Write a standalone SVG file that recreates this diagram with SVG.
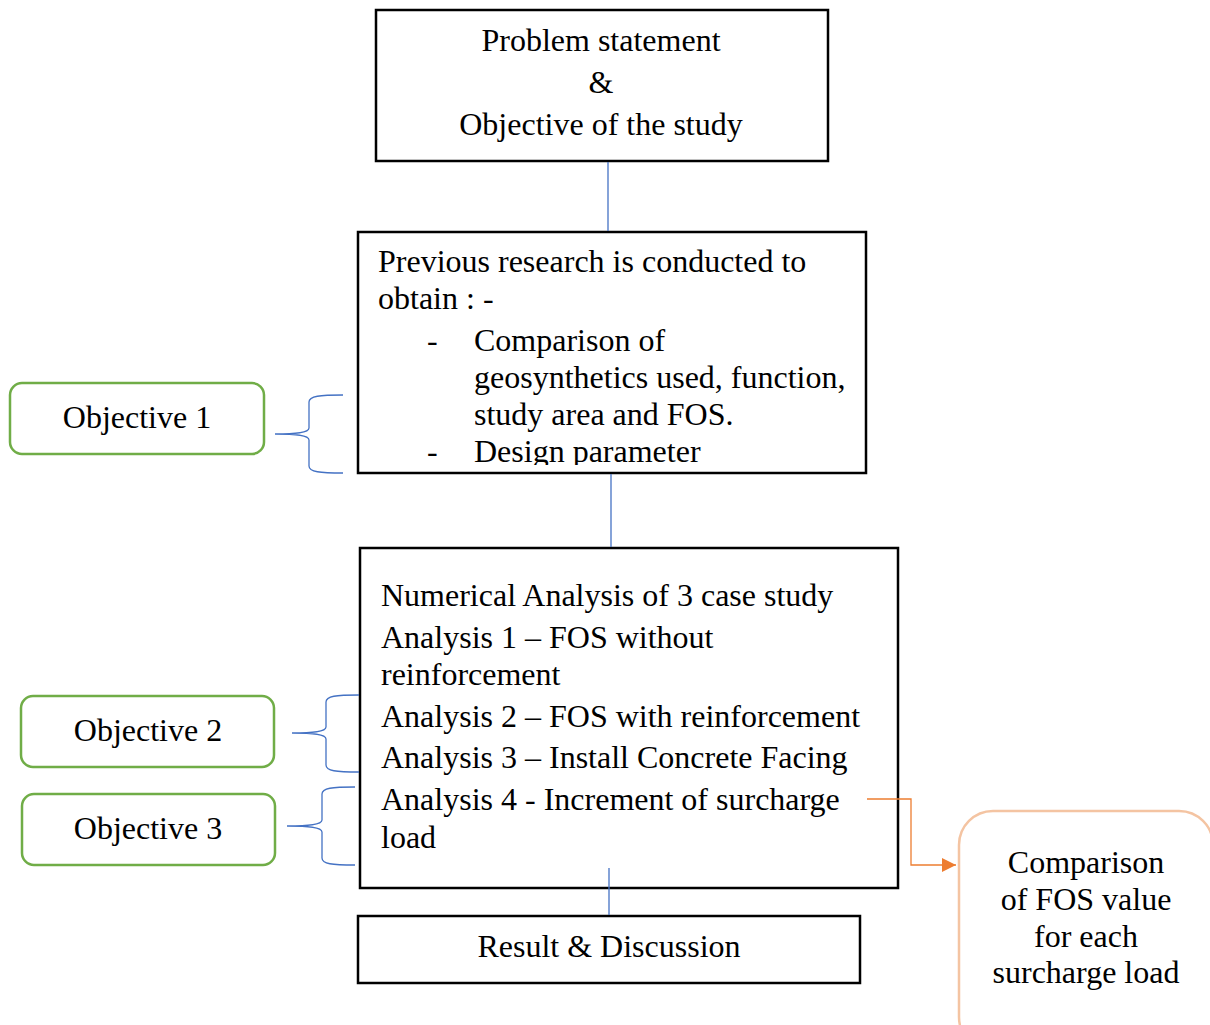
<svg xmlns="http://www.w3.org/2000/svg" width="1210" height="1025" viewBox="0 0 1210 1025">
<style>
text{font-family:"Liberation Serif","Times New Roman",serif;font-size:32px;fill:#000}
.c{text-anchor:middle}
.box{fill:#fff;stroke:#000;stroke-width:2.5}
.obj{fill:#fff;stroke:#70AD47;stroke-width:2.5}
.cmp{fill:#fff;stroke:#F4C4A2;stroke-width:2.5}
.ln{fill:none;stroke:#4472C4;stroke-width:1.3}
.or{fill:none;stroke:#ED7D31;stroke-width:1.3}
</style>
<defs>
<marker id="ah2" viewBox="0 0 10 10" markerWidth="14" markerHeight="14" refX="10" refY="5" orient="auto" markerUnits="userSpaceOnUse"><path d="M0,0 L10,5 L0,10 Z" fill="#ED7D31"/></marker>
<clipPath id="clip2"><rect x="360" y="234" width="504" height="231"/></clipPath>
</defs>
<rect width="1210" height="1025" fill="#fff"/>
<g id="node-problem">
<rect class="box" x="376" y="10" width="452" height="151"/>
<text class="c" x="601" y="51">Problem statement</text>
<text class="c" x="601" y="93">&amp;</text>
<text class="c" x="601" y="135">Objective of the study</text>
</g>
<g id="node-previous">
<rect class="box" x="358" y="232" width="508" height="241"/>
<g clip-path="url(#clip2)">
<text x="378" y="272">Previous research is conducted to</text>
<text x="378" y="309">obtain : -</text>
<text x="427" y="351">-</text>
<text x="474" y="351">Comparison of</text>
<text x="474" y="388">geosynthetics used, function,</text>
<text x="474" y="425">study area and FOS.</text>
<text x="427" y="462">-</text>
<text x="474" y="462">Design parameter</text>
</g>
</g>
<g id="node-numerical">
<rect class="box" x="360" y="548" width="538" height="340"/>
<text x="381" y="606">Numerical Analysis of 3 case study</text>
<text x="381" y="648">Analysis 1 – FOS without</text>
<text x="381" y="685">reinforcement</text>
<text x="381" y="727">Analysis 2 – FOS with reinforcement</text>
<text x="381" y="768">Analysis 3 – Install Concrete Facing</text>
<text x="381" y="810">Analysis 4 - Increment of surcharge</text>
<text x="381" y="848">load</text>
</g>
<g id="node-result">
<rect class="box" x="358" y="916" width="502" height="67"/>
<text class="c" x="609" y="957">Result &amp; Discussion</text>
</g>
<g id="node-obj1">
<rect class="obj" x="10" y="383" width="254" height="71" rx="12"/>
<text class="c" x="137" y="428">Objective 1</text>
</g>
<g id="node-obj2">
<rect class="obj" x="21" y="696" width="253" height="71" rx="12"/>
<text class="c" x="148" y="741">Objective 2</text>
</g>
<g id="node-obj3">
<rect class="obj" x="22" y="794" width="253" height="71" rx="12"/>
<text class="c" x="148" y="839">Objective 3</text>
</g>
<g id="node-comparison">
<rect class="cmp" x="959" y="811" width="254" height="240" rx="34"/>
<text class="c" x="1086" y="873">Comparison</text>
<text class="c" x="1086" y="910">of FOS value</text>
<text class="c" x="1086" y="947">for each</text>
<text class="c" x="1086" y="983">surcharge load</text>
</g>
<g id="connectors">
<line class="ln" x1="608" y1="162" x2="608" y2="231"/>
<line class="ln" x1="611" y1="474" x2="611" y2="547"/>
<line class="ln" x1="609" y1="868" x2="609" y2="915" stroke="#7F9FD6"/>
<path class="ln" d="M343,395 C320,395 309,396 309,402 L309,428 C309,433 295,434 275,434 C295,434 309,435 309,440 L309,466 C309,472 320,473 343,473"/>
<path class="ln" d="M359,695 C336,695 326,696 326,702 L326,727 C326,732 312,733 292,733 C312,733 326,734 326,739 L326,765 C326,771 336,772 359,772"/>
<path class="ln" d="M355,787 C332,787 322,788 322,794 L322,820 C322,825 307,826 287,826 C307,826 322,827 322,832 L322,858 C322,864 332,865 355,865"/>
<path class="or" d="M867,799 L911,799 L911,865 L956,865" marker-end="url(#ah2)"/>
</g>
</svg>
